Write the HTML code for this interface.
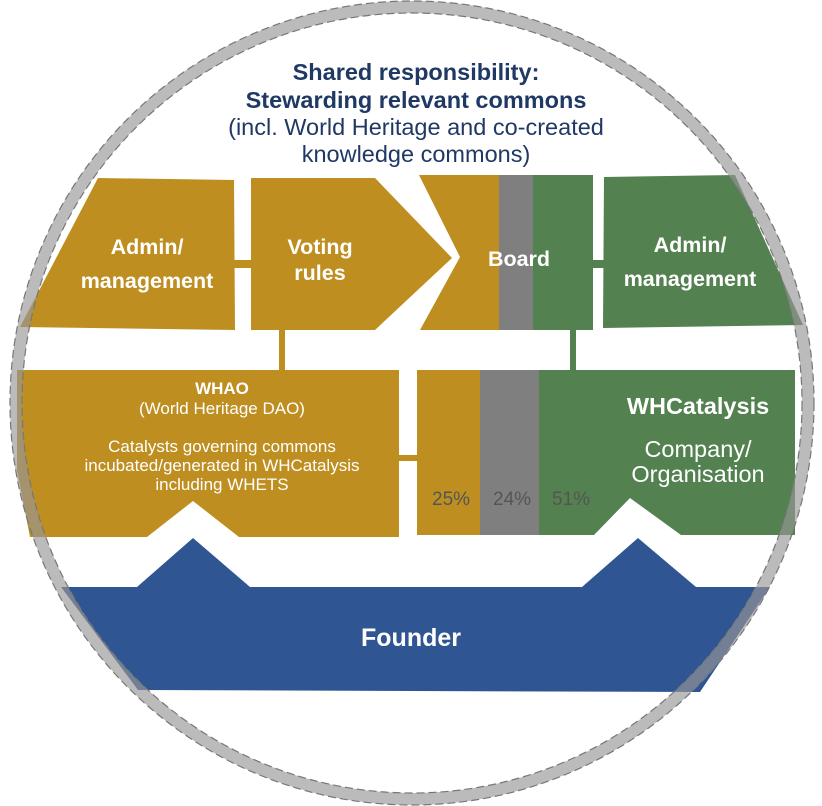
<!DOCTYPE html>
<html><head><meta charset="utf-8"><style>
html,body{margin:0;padding:0;background:#fff;}
svg{display:block;}
text{font-family:"Liberation Sans",Arial,sans-serif;}
</style></head><body>
<svg width="822" height="806" viewBox="0 0 822 806" xmlns="http://www.w3.org/2000/svg">
<rect width="822" height="806" fill="#fff"/>
<g text-anchor="middle" fill="#1f3864">
<text x="416" y="80" font-size="23.5" font-weight="bold">Shared responsibility:</text>
<text x="416" y="108" font-size="23.5" font-weight="bold">Stewarding relevant commons</text>
<text x="416" y="135" font-size="23.5">(incl. World Heritage and co-created</text>
<text x="416" y="162" font-size="23.5">knowledge commons)</text>
</g>
<!-- top row -->
<polygon points="98,178 234,180 235,330 20,327" fill="#be8e20"/>
<rect x="234" y="260" width="18" height="8" fill="#be8e20"/>
<polygon points="251,178 375,178 452,258 375,330 251,330" fill="#be8e20"/>
<polygon points="419,175 499,175 499,330 420,330 460,257" fill="#be8e20"/>
<rect x="499" y="175" width="34" height="155" fill="#7f7f7f"/>
<rect x="533" y="175" width="60" height="155" fill="#538150"/>
<rect x="592" y="260" width="13" height="8" fill="#538150"/>
<polygon points="604,177 735,175 803,325 603,328" fill="#538150"/>
<!-- connectors -->
<rect x="279" y="329" width="6" height="42" fill="#be8e20"/>
<rect x="570" y="329" width="6" height="42" fill="#538150"/>
<rect x="398" y="455" width="20" height="6" fill="#be8e20"/>
<!-- WHAO -->
<polygon points="17,370 399,370 399,537 239,537 193,501 147,537 30,537 17,470" fill="#be8e20"/>
<!-- middle -->
<rect x="417" y="370" width="64" height="165" fill="#be8e20"/>
<rect x="480" y="370" width="60" height="165" fill="#7f7f7f"/>
<polygon points="539,370 795,370 795,535 681,535 630,498 594,535 539,535" fill="#538150"/>
<!-- founder -->
<polygon points="61,587 137,587 193,538 250,587 582,587 638,538 696,587 770,587 700,692 138,690" fill="#2f5592"/>
<!-- ring -->
<circle cx="412" cy="403" r="396" fill="none" stroke="rgba(150,150,150,0.65)" stroke-width="12"/>
<circle cx="412" cy="403" r="402" fill="none" stroke="#777" stroke-width="1.2" stroke-dasharray="8,4"/>
<circle cx="412" cy="403" r="390" fill="none" stroke="#777" stroke-width="1.2" stroke-dasharray="8,4"/>
<!-- labels -->
<g fill="#fff" text-anchor="middle" font-weight="bold" font-size="21.5">
<text x="147" y="254">Admin/</text>
<text x="147" y="288">management</text>
<text x="320" y="254">Voting</text>
<text x="320" y="280">rules</text>
<text x="519" y="266">Board</text>
<text x="690" y="252">Admin/</text>
<text x="690" y="286">management</text>
<text x="698" y="414" font-size="23.5">WHCatalysis</text>
<text x="411" y="646" font-size="25">Founder</text>
</g>
<g fill="#fff" text-anchor="middle" font-size="17">
<text x="222" y="394" font-weight="bold">WHAO</text>
<text x="222" y="414">(World Heritage DAO)</text>
<text x="222" y="452">Catalysts governing commons</text>
<text x="222" y="471">incubated/generated in WHCatalysis</text>
<text x="222" y="490">including WHETS</text>
</g>
<g fill="#fff" text-anchor="middle" font-size="23.5">
<text x="698" y="457">Company/</text>
<text x="698" y="482">Organisation</text>
</g>
<g fill="#555" font-size="19">
<text x="432" y="505">25%</text>
<text x="493" y="505">24%</text>
<text x="552" y="505">51%</text>
</g>
</svg>
</body></html>
